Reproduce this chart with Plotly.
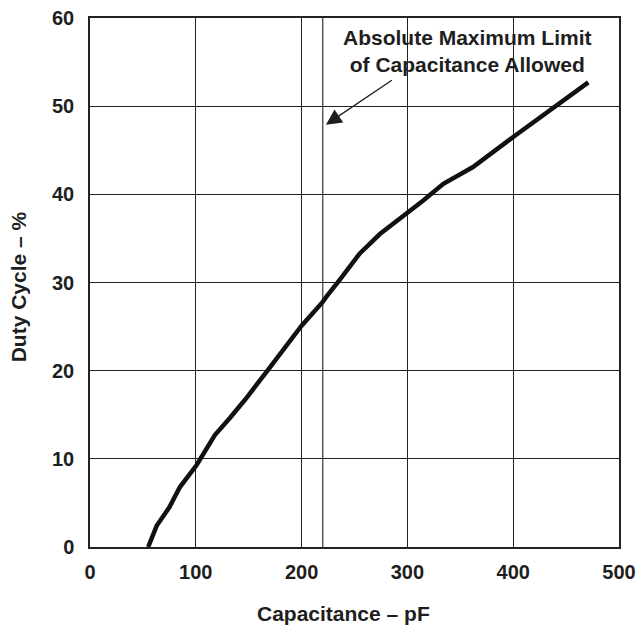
import plotly.graph_objects as go

capacitance_pf = [55, 63, 75, 85, 100.8, 105.5, 118, 132, 146.5, 167, 180, 200, 220,
                  223.5, 236, 250.5, 255, 274, 300, 315, 334, 362, 400, 444, 471]
duty_cycle_pct = [0, 2.4, 4.5, 6.8, 9.3, 10.2, 12.7, 14.6, 16.7, 19.9, 21.9, 25.1, 27.8,
                  28.4, 30.3, 32.7, 33.3, 35.5, 37.9, 39.3, 41.2, 43.1, 46.5, 50.3, 52.7]
limit_capacitance = 220
x_ticks = [0, 100, 200, 300, 400, 500]
y_ticks = [0, 10, 20, 30, 40, 50, 60]

FONT = "Liberation Sans, Arial, Helvetica, sans-serif"
TXT = "#1e1e1e"

fig = go.Figure()
fig.add_trace(go.Scatter(x=capacitance_pf, y=duty_cycle_pct, mode="lines",
                         line=dict(color="#111111", width=4.5), showlegend=False,
                         hoverinfo="skip"))

fig.add_shape(type="line", xref="x", yref="y", x0=limit_capacitance, x1=limit_capacitance,
              y0=0, y1=60, line=dict(color="#333333", width=1.2), layer="below")

fig.add_annotation(x=223, y=47.9, ax=286.7, ay=53.05, xref="x", yref="y", axref="x", ayref="y",
                   text="", showarrow=True, arrowhead=2, arrowsize=2.4, arrowwidth=1.3,
                   arrowcolor="#1e1e1e")
fig.add_annotation(x=357, y=56.3, xref="x", yref="y", showarrow=False,
                   text="<b>Absolute Maximum Limit<br>of Capacitance Allowed</b>",
                   font=dict(family=FONT, size=21, color=TXT), align="center")

fig.add_annotation(x=0.48, y=-0.1248, xref="paper", yref="paper", showarrow=False,
                   text="<b>Capacitance – pF</b>", font=dict(family=FONT, size=21, color=TXT),
                   xanchor="center", yanchor="middle")
fig.add_annotation(x=-0.135, y=0.492, xref="paper", yref="paper", showarrow=False,
                   text="<b>Duty Cycle – %</b>", font=dict(family=FONT, size=21, color=TXT),
                   textangle=-90, xanchor="center", yanchor="middle")

axis_common = dict(showgrid=True, gridcolor="#222222", gridwidth=1, zeroline=False,
                   showline=True, linecolor="#222222", linewidth=1.5, mirror=True,
                   ticks="", automargin=False, ticklabeloverflow="allow",
                   tickfont=dict(family=FONT, size=20, color=TXT))
fig.update_xaxes(range=[0, 500], tickvals=x_ticks, ticktext=[f"<b>{v}</b>" for v in x_ticks],
                 ticklabelstandoff=6, **axis_common)
fig.update_yaxes(range=[0, 60], tickvals=y_ticks, ticktext=[f"<b>{v}</b>" for v in y_ticks],
                 ticklabelstandoff=10, **axis_common)

fig.update_layout(width=640, height=629, margin=dict(l=90, r=21, t=17.5, b=82.3),
                  plot_bgcolor="white", paper_bgcolor="white",
                  font=dict(family=FONT, color=TXT))
fig.write_html("out.html", config={"displayModeBar": False},
               post_script="document.body.style.margin='0';document.body.style.overflow='hidden';")
